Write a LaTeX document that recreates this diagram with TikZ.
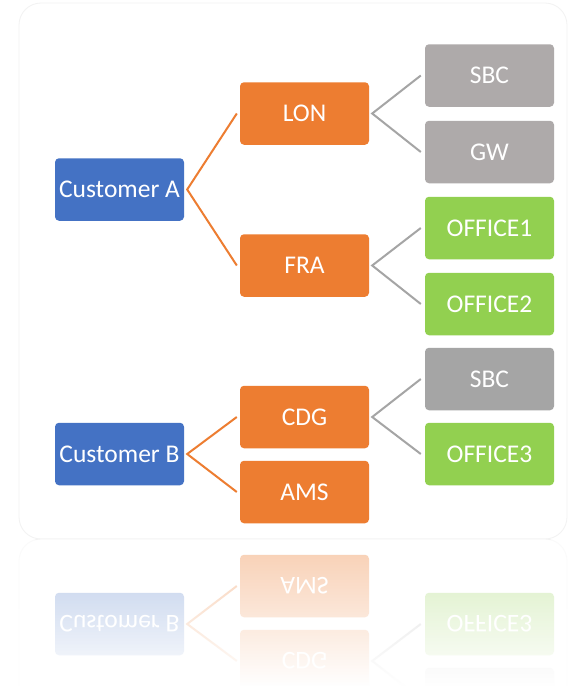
\documentclass[tikz,border=0pt]{standalone}
\usepackage{fontspec}
\setmainfont{Carlito}
\usetikzlibrary{fadings}

\definecolor{custblue}{HTML}{4472C4}
\definecolor{siteorange}{HTML}{ED7D31}
\definecolor{warmgray}{HTML}{AEAAAA}
\definecolor{coolgray}{HTML}{A5A5A5}
\definecolor{officegreen}{HTML}{92D050}
\definecolor{linkgray}{HTML}{A5A5A5}

% reflection fade: the white veil gets denser towards the bottom
\tikzfading[name=reflectfade, top color=transparent!38, bottom color=transparent!0]

% the whole hierarchy; #1 is a prefix for the node names
\newcommand\orgtree[1]{%
  \draw[card] (19,3) rectangle (567,539);
  % customers
  \node[box, fill=custblue] (#1ca) at (119.5,189.5) {Customer A};
  \node[box, fill=custblue] (#1cb) at (119.5,454) {Customer B};
  % sites
  \node[box, fill=siteorange] (#1lon) at (304.5,113.5) {LON};
  \node[box, fill=siteorange] (#1fra) at (304.5,265.5) {FRA};
  \node[box, fill=siteorange] (#1cdg) at (304.5,417) {CDG};
  \node[box, fill=siteorange] (#1ams) at (304.5,492) {AMS};
  % leaves
  \node[box, fill=warmgray] (#1sbca) at (489.5,75.5) {SBC};
  \node[box, fill=warmgray] (#1gw) at (489.5,152) {GW};
  \node[box, fill=officegreen] (#1ofa) at (489.5,228) {OFFICE1};
  \node[box, fill=officegreen] (#1ofb) at (489.5,304) {OFFICE2};
  \node[box, fill=coolgray] (#1sbcb) at (489.5,379) {SBC};
  \node[box, fill=officegreen] (#1ofc) at (489.5,454) {OFFICE3};
  % links customer -> site
  \draw[orangelink] ([xshift=-3pt]#1lon.west) -- ([xshift=3pt]#1ca.east) -- ([xshift=-3pt]#1fra.west);
  \draw[orangelink] ([xshift=-3pt]#1cdg.west) -- ([xshift=3pt]#1cb.east) -- ([xshift=-3pt]#1ams.west);
  % links site -> leaf
  \draw[graylink] ([xshift=-4pt]#1sbca.west) -- ([xshift=3pt]#1lon.east) -- ([xshift=-4pt]#1gw.west);
  \draw[graylink] ([xshift=-4pt]#1ofa.west) -- ([xshift=3pt]#1fra.east) -- ([xshift=-4pt]#1ofb.west);
  \draw[graylink] ([xshift=-4pt]#1sbcb.west) -- ([xshift=3pt]#1cdg.east) -- ([xshift=-4pt]#1ofc.west);
}

\begin{document}
\begin{tikzpicture}[x=1pt, y=-1pt,
  card/.style={fill=white, draw=black!5, line width=0.8pt, rounded corners=22pt},
  box/.style={rectangle, rounded corners=4pt, minimum width=129pt, minimum height=62.5pt,
    inner sep=0pt, text=white, font=\fontsize{25.5}{30}\selectfont},
  orangelink/.style={draw=siteorange, line width=2pt},
  graylink/.style={draw=linkgray, line width=2pt}]
  \useasboundingbox (0,0) rectangle (569,686);
  \fill[white] (0,0) rectangle (569,686);
  % upright drawing
  \orgtree{}
  % mirrored copy below the card
  \begin{scope}[shift={(0,-1078pt)}, yscale=-1, transform shape]
    \orgtree{m}
  \end{scope}
  \fill[white, path fading=reflectfade] (0,540) rectangle (569,686);
\end{tikzpicture}
\end{document}
